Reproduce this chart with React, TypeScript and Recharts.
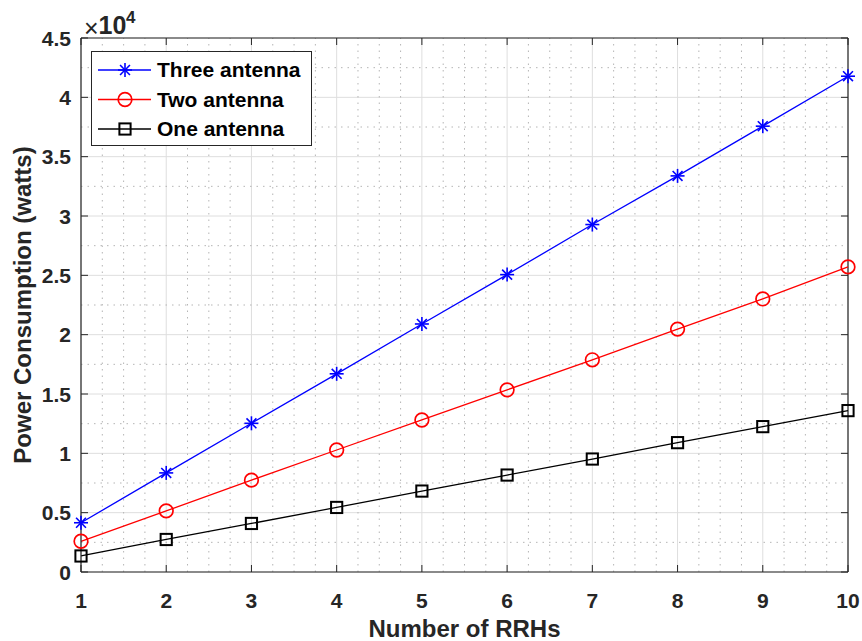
import React from "react";
import {
  LineChart,
  Line,
  XAxis,
  YAxis,
  CartesianGrid,
  ReferenceLine,
  Legend,
} from "recharts";

const rrhs = [1, 2, 3, 4, 5, 6, 7, 8, 9, 10];
const threeAntenna = [4150, 8350, 12530, 16700, 20900, 25060, 29280, 33380, 37570, 41780];
const twoAntenna = [2590, 5150, 7740, 10280, 12810, 15350, 17880, 20470, 23010, 25710];
const oneAntenna = [1350, 2740, 4090, 5440, 6820, 8170, 9520, 10900, 12250, 13600];

const xTicks = [1, 2, 3, 4, 5, 6, 7, 8, 9, 10];
const yTicks = [0, 5000, 10000, 15000, 20000, 25000, 30000, 35000, 40000, 45000];

// minor dotted grid: quarters on x, halves of a major step on y
const xMinor = xTicks.slice(0, -1).flatMap((t) => [t + 0.25, t + 0.5, t + 0.75]);
const yMinor = yTicks.slice(0, -1).map((t) => t + 2500);

const W = 862;
const H = 641;
const MARGIN = { top: 38, right: 14, left: 0, bottom: 0 };
const TICK = 7;
const AXIS = "#262626";
const FONT = "'Liberation Sans', Arial, Helvetica, sans-serif";

const data = rrhs.map((n, i) => ({
  n,
  three: threeAntenna[i],
  two: twoAntenna[i],
  one: oneAntenna[i],
}));

const SERIES = [
  { key: "three", name: "Three antenna", color: "#0000ff", marker: "star" },
  { key: "two", name: "Two antenna", color: "#ff0000", marker: "circle" },
  { key: "one", name: "One antenna", color: "#000000", marker: "square" },
];

function Marker({ kind, cx, cy, color }: { kind: string; cx: number; cy: number; color: string }) {
  if (kind === "star") {
    const r = 7;
    const d = r * 0.7071;
    return (
      <g stroke={color} strokeWidth={1.6}>
        <line x1={cx - r} y1={cy} x2={cx + r} y2={cy} />
        <line x1={cx} y1={cy - r} x2={cx} y2={cy + r} />
        <line x1={cx - d} y1={cy - d} x2={cx + d} y2={cy + d} />
        <line x1={cx - d} y1={cy + d} x2={cx + d} y2={cy - d} />
      </g>
    );
  }
  if (kind === "circle") {
    return <circle cx={cx} cy={cy} r={6.8} fill="none" stroke={color} strokeWidth={1.7} />;
  }
  return (
    <rect x={cx - 5.6} y={cy - 5.6} width={11.2} height={11.2} fill="none" stroke={color} strokeWidth={2} />
  );
}

const makeDot = (kind: string, color: string) => (props: any) => {
  const { cx, cy, index } = props;
  if (cx == null || cy == null) return <g key={`d-${index}`} />;
  return <Marker key={`${kind}-${index}`} kind={kind} cx={cx} cy={cy} color={color} />;
};

const XTick = (props: any) => {
  const { x, y, payload } = props;
  return (
    <g>
      <line x1={x} y1={y} x2={x} y2={y - TICK} stroke={AXIS} />
      <line x1={x} y1={MARGIN.top} x2={x} y2={MARGIN.top + TICK} stroke={AXIS} />
      <text x={x} y={y + 36} textAnchor="middle" fill={AXIS} style={{ fontSize: 21, fontWeight: "bold", fontFamily: FONT }}>
        {payload.value}
      </text>
    </g>
  );
};

const YTick = (props: any) => {
  const { x, y, payload } = props;
  const right = W - MARGIN.right;
  return (
    <g>
      <line x1={x} y1={y} x2={x + TICK} y2={y} stroke={AXIS} />
      <line x1={right} y1={y} x2={right - TICK} y2={y} stroke={AXIS} />
      <text x={x - 10} y={y + 7.5} textAnchor="end" fill={AXIS} style={{ fontSize: 21, fontWeight: "bold", fontFamily: FONT }}>
        {payload.value / 10000}
      </text>
    </g>
  );
};

const LegendBox = () => (
  <svg width={221} height={95} style={{ display: "block" }}>
    <rect x={0.5} y={0.5} width={220} height={94} fill="#ffffff" stroke={AXIS} strokeWidth={1} />
    {SERIES.map((s, i) => {
      const cy = 19 + i * 29.5;
      return (
        <g key={s.key}>
          <line x1={7} y1={cy} x2={60} y2={cy} stroke={s.color} strokeWidth={1.3} />
          <Marker kind={s.marker} cx={34} cy={cy} color={s.color} />
          <text x={66} y={cy + 7} fill="#000" style={{ fontSize: 21, fontWeight: "bold", fontFamily: FONT }}>
            {s.name}
          </text>
        </g>
      );
    })}
  </svg>
);

export default function App() {
  return (
    <div style={{ position: "absolute", left: 0, top: 0, width: W, height: H, background: "#fff", fontFamily: FONT }}>
      <LineChart width={W} height={H} data={data} margin={MARGIN}>
        <CartesianGrid stroke="#dedede" strokeWidth={1} />
        {xMinor.map((v) => (
          <ReferenceLine key={`xm-${v}`} x={v} stroke="#b5b5b5" strokeDasharray="1.5 5" strokeWidth={1} />
        ))}
        {yMinor.map((v) => (
          <ReferenceLine key={`ym-${v}`} y={v} stroke="#b5b5b5" strokeDasharray="1.5 5" strokeWidth={1} />
        ))}
        <ReferenceLine y={45000} stroke={AXIS} strokeWidth={1.2} />
        <ReferenceLine x={10} stroke={AXIS} strokeWidth={1.2} />
        <XAxis
          dataKey="n"
          type="number"
          domain={[1, 10]}
          ticks={xTicks}
          interval={0}
          height={69}
          tickSize={0}
          tickMargin={0}
          tickLine={false}
          tick={<XTick />}
          axisLine={{ stroke: AXIS, strokeWidth: 1.2 }}
          label={{
            value: "Number of RRHs",
            position: "insideBottom",
            offset: 4,
            style: { fontSize: 24, fontWeight: "bold", fill: AXIS, fontFamily: FONT },
          }}
        />
        <YAxis
          type="number"
          domain={[0, 45000]}
          ticks={yTicks}
          interval={0}
          width={81}
          tickSize={0}
          tickMargin={0}
          tickLine={false}
          tick={<YTick />}
          axisLine={{ stroke: AXIS, strokeWidth: 1.2 }}
          label={{
            value: "Power Consumption (watts)",
            angle: -90,
            position: "insideLeft",
            offset: 22,
            style: { textAnchor: "middle", fontSize: 24, fontWeight: "bold", fill: AXIS, fontFamily: FONT },
          }}
        />
        <Legend
          layout="vertical"
          align="center"
          verticalAlign="middle"
          content={<LegendBox />}
          wrapperStyle={{ position: "absolute", left: 91, top: 51, width: 221, height: 95 }}
        />
        {SERIES.map((s) => (
          <Line
            key={s.key}
            dataKey={s.key}
            name={s.name}
            stroke={s.color}
            strokeWidth={1.3}
            dot={makeDot(s.marker, s.color)}
            activeDot={false}
            isAnimationActive={false}
          />
        ))}
      </LineChart>
      <svg width={160} height={40} style={{ position: "absolute", left: 0, top: 0 }}>
        <text x={84} y={36.5} fill={AXIS} style={{ fontFamily: FONT, fontSize: 25, fontWeight: 400 }}>
          ×
        </text>
        <text x={98.5} y={33.5} fill={AXIS} style={{ fontFamily: FONT, fontSize: 25, fontWeight: 700 }}>
          10
        </text>
        <text x={126} y={23} fill={AXIS} style={{ fontFamily: FONT, fontSize: 17, fontWeight: 700 }}>
          4
        </text>
      </svg>
    </div>
  );
}
